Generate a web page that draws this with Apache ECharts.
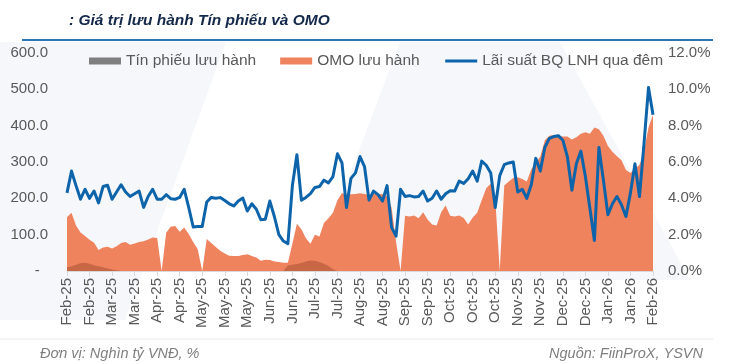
<!DOCTYPE html>
<html>
<head>
<meta charset="utf-8">
<script src="https://cdn.jsdelivr.net/npm/echarts@6.0.0/dist/echarts.min.js"></script>
<style>
html, body { margin: 0; padding: 0; background: #fff; }
#chart { width: 730px; height: 364px; }
</style>
</head>
<body>
<div id="chart"></div>
<script>
// nhãn trục hoành (mỗi nhãn cách 5 điểm dữ liệu)
var xLabels = ['Feb-25', 'Feb-25', 'Mar-25', 'Mar-25', 'Apr-25', 'Apr-25', 'May-25', 'May-25', 'May-25',
	'Jun-25', 'Jun-25', 'Jul-25', 'Jul-25', 'Aug-25', 'Aug-25', 'Sep-25', 'Sep-25', 'Oct-25', 'Oct-25',
	'Oct-25', 'Nov-25', 'Nov-25', 'Dec-25', 'Dec-25', 'Jan-26', 'Jan-26', 'Feb-26'];

// OMO lưu hành (nghìn tỷ VNĐ)
var omoData = [
	148, 160, 125, 106, 96, 86, 78, 58, 65, 67,
	62, 68, 77, 80, 72, 76, 80, 82, 87, 92,
	91, 0, 105, 122, 124, 108, 120, 102, 80, 60,
	0, 88, 77, 66, 56, 48, 42, 41, 41, 44,
	46, 41, 37, 28, 31, 30, 26, 25, 23, 23,
	75, 130, 115, 90, 75, 100, 95, 132, 145, 160,
	195, 215, 210, 211, 212, 214, 212, 209, 212, 212,
	211, 206, 175, 80, 0, 152, 150, 153, 145, 162,
	142, 128, 125, 162, 180, 152, 150, 153, 146, 128,
	147, 160, 195, 228, 240, 200, 0, 235, 246, 256,
	258, 253, 246, 280, 298, 315, 360, 372, 374, 372,
	370, 370, 362, 368, 378, 382, 378, 395, 390, 372,
	344, 328, 316, 305, 278, 270, 282, 292, 330, 395,
	430
];

// Tín phiếu lưu hành (nghìn tỷ VNĐ)
var tpData = [
	10, 13, 17, 21, 23, 20, 16, 13, 10, 7,
	4, 2, 0, 0, 0, 0, 0, 0, 0, 0,
	0, 0, 0, 0, 0, 0, 0, 0, 0, 0,
	0, 0, 0, 0, 0, 0, 0, 0, 0, 0,
	0, 0, 0, 0, 0, 0, 0, 0, 0, 15,
	17, 19, 22, 26, 29, 28, 25, 20, 14, 5,
	0, 0, 0, 0, 0, 0, 0, 0, 0, 0,
	0, 0, 0, 0, 0, 0, 0, 0, 0, 0,
	0, 0, 0, 0, 0, 0, 0, 0, 0, 0,
	0, 0, 0, 0, 0, 0, 0, 0, 0, 0,
	0, 0, 0, 0, 0, 0, 0, 0, 0, 0,
	0, 0, 0, 0, 0, 0, 0, 0, 0, 0,
	0, 0, 0, 0, 0, 0, 0, 0, 0, 0,
	0
];

// Lãi suất BQ LNH qua đêm (%)
var rateData = [
	4.3, 5.5, 4.7, 3.95, 4.5, 4.0, 4.4, 3.75, 4.65, 4.72,
	3.95, 4.35, 4.75, 4.35, 4.1, 4.25, 4.4, 3.5, 4.1, 4.5,
	3.95, 3.95, 4.2, 3.98, 3.95, 4.05, 4.5, 3.5, 2.42, 2.45,
	2.45, 3.8, 4.05, 4.0, 4.04, 3.88, 3.7, 3.58, 3.85, 4.02,
	3.3, 3.7, 3.4, 2.82, 2.85, 3.85, 3.0, 2.0, 1.65, 1.5,
	4.7, 6.4, 3.9, 4.05, 4.26, 4.6, 4.65, 5.0, 4.85, 5.2,
	6.45, 5.95, 3.5, 5.1, 5.4, 6.3, 5.75, 3.9, 4.4, 4.2,
	3.85, 4.7, 2.4, 1.92, 4.5, 4.1, 4.15, 4.08, 4.1, 4.4,
	3.85, 4.0, 4.4, 3.95, 4.25, 4.42, 4.4, 4.95, 4.82, 5.08,
	5.5, 4.95, 6.05, 5.82, 5.4, 3.5, 5.25, 5.85, 5.95, 6.0,
	4.35, 4.5, 4.0, 4.75, 6.2, 5.5, 6.8, 7.3, 7.4, 7.45,
	7.2, 6.3, 4.45, 5.9, 6.6, 5.2, 3.45, 1.68, 6.8, 5.0,
	3.1, 3.7, 4.1, 3.65, 3.0, 4.3, 5.9, 4.1, 7.0, 10.1,
	8.6
];

var FONT = '"Liberation Sans", Arial, sans-serif';
var LABEL_COLOR = '#595959';

function toPairs(arr) {
	return arr.map(function (v, i) { return [i, v]; });
}

var myChart = echarts.init(document.getElementById('chart'));
var option = {
	animation: false,
	backgroundColor: '#ffffff',
	textStyle: { fontFamily: FONT },
	title: {
		text: ': Giá trị lưu hành Tín phiếu và OMO',
		left: 64,
		top: 8,
		textStyle: {
			fontFamily: FONT,
			fontStyle: 'italic',
			fontWeight: 'bold',
			fontSize: 15.5,
			color: '#14284a'
		}
	},
	legend: {
		left: 84,
		top: 48,
		itemWidth: 32,
		itemHeight: 7,
		itemGap: 24,
		textStyle: { fontFamily: FONT, fontSize: 15.5, color: LABEL_COLOR },
		data: [
			{ name: 'Tín phiếu lưu hành', icon: 'rect', itemStyle: { color: '#7f7f7f' } },
			{ name: 'OMO lưu hành', icon: 'rect', itemStyle: { color: '#ee835e' } },
			// chỉ giữ đường kẻ, ẩn chấm tròn
			{ name: 'Lãi suất BQ LNH qua đêm', itemStyle: { opacity: 0 }, lineStyle: { width: 3 } }
		]
	},
	grid: {
		left: 67,
		right: 77,
		top: 53,
		bottom: 93,
		outerBoundsMode: 'none'
	},
	xAxis: {
		type: 'value',
		min: 0,
		max: 130,
		interval: 5,
		splitLine: { show: false },
		axisLine: { show: true, lineStyle: { color: '#d9d9d9' } },
		axisTick: { show: true, length: 5, lineStyle: { color: '#d9d9d9' } },
		axisLabel: {
			rotate: 90,
			margin: 7,
			fontSize: 15,
			color: LABEL_COLOR,
			formatter: function (v) {
				return v % 5 === 0 ? xLabels[v / 5] : '';
			}
		}
	},
	yAxis: [{
		type: 'value',
		min: 0,
		max: 600,
		interval: 100,
		splitLine: { show: false },
		axisLine: { show: false },
		axisTick: { show: false },
		axisLabel: {
			margin: 19,
			fontSize: 15,
			color: LABEL_COLOR,
			formatter: function (v) {
				return v === 0 ? '-\u00a0\u00a0' : v.toFixed(1);
			}
		}
	}, {
		type: 'value',
		min: 0,
		max: 12,
		interval: 2,
		splitLine: { show: false },
		axisLine: { show: false },
		axisTick: { show: false },
		axisLabel: {
			margin: 15,
			fontSize: 15,
			color: LABEL_COLOR,
			formatter: function (v) {
				return v.toFixed(1) + '%';
			}
		}
	}],
	series: [{
		name: 'OMO lưu hành',
		type: 'line',
		yAxisIndex: 0,
		symbol: 'none',
		color: '#ee835e',
		lineStyle: { width: 0 },
		areaStyle: { color: '#ee835e', opacity: 1 },
		data: toPairs(omoData),
		z: 2
	}, {
		name: 'Tín phiếu lưu hành',
		type: 'line',
		yAxisIndex: 0,
		symbol: 'none',
		color: '#7f7f7f',
		lineStyle: { width: 0 },
		areaStyle: { color: 'rgba(110,40,15,0.3)', opacity: 1 },
		data: toPairs(tpData),
		z: 3
	}, {
		name: 'Lãi suất BQ LNH qua đêm',
		type: 'line',
		yAxisIndex: 1,
		symbol: 'none',
		color: '#0d64aa',
		lineStyle: { width: 3, color: '#0d64aa', join: 'round' },
		data: toPairs(rateData),
		z: 4
	}],
	graphic: [
		// nền mờ (watermark)
		{ type: 'polygon', z: -10, silent: true, shape: { points: [[0, 42], [226, 42], [125, 320], [0, 320]] }, style: { fill: '#f5f7fa' } },
		{ type: 'polygon', z: -10, silent: true, shape: { points: [[400, 42], [560, 42], [690, 280], [310, 280]] }, style: { fill: '#f5f7fa' } },
		// đường kẻ dưới tiêu đề
		{ type: 'line', silent: true, shape: { x1: 22, y1: 40, x2: 713, y2: 40 }, style: { stroke: '#2e75b6', lineWidth: 2 } },
		// đường kẻ chân
		{ type: 'line', silent: true, shape: { x1: 0, y1: 339, x2: 713, y2: 339 }, style: { stroke: '#e8e8e8', lineWidth: 1 } },
		{
			type: 'text', left: 40, top: 346, silent: true,
			style: { text: 'Đơn vị: Nghìn tỷ VNĐ, %', font: 'italic 14.5px ' + FONT, fill: '#7f7f7f' }
		},
		{
			type: 'text', right: 27, top: 346, silent: true,
			style: { text: 'Nguồn: FiinProX, YSVN', font: 'italic 14.5px ' + FONT, fill: '#7f7f7f' }
		}
	]
};
myChart.setOption(option);
window.addEventListener('resize', function () {
	myChart.resize();
});
</script>
</body>
</html>
